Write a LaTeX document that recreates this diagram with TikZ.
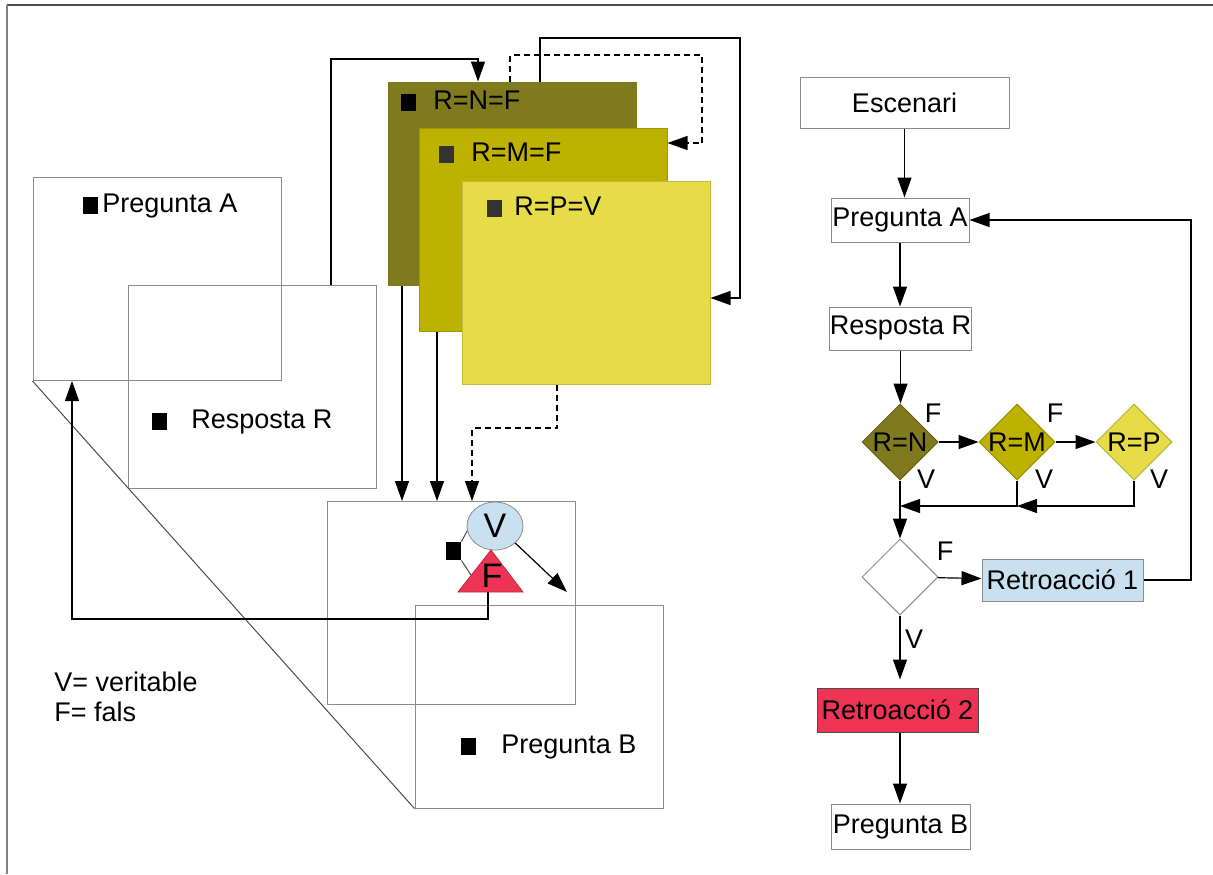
\documentclass[tikz,border=0pt]{standalone}
\usepackage{fontspec}
\setmainfont{Liberation Sans}
\usetikzlibrary{arrows.meta}
\usetikzlibrary{shapes.geometric, positioning}

\definecolor{olivN}{RGB}{128,122,30}
\definecolor{olivM}{RGB}{190,178,0}
\definecolor{olivP}{RGB}{230,220,72}
\definecolor{skyV}{RGB}{200,224,240}
\definecolor{redF}{RGB}{238,52,84}
\definecolor{edge}{RGB}{140,140,140}

\newcommand{\bul}[1][black]{\textcolor{#1}{\rule[-1pt]{7.5pt}{8.5pt}}}

\tikzset{
    card/.style={draw=edge, line width=0.5pt, minimum width=124pt, minimum height=101.5pt, inner sep=0pt},
    lbl/.style={anchor=base west, inner sep=0pt, font=\fontsize{13.5}{15}\selectfont},
    box/.style={draw=edge, line width=0.5pt, inner sep=0pt, font=\fontsize{13.5}{15}\selectfont},
    test/.style={diamond, draw=edge, line width=0.5pt, minimum width=38pt, minimum height=38pt, inner sep=0pt},
    flag/.style={inner sep=0pt, font=\fontsize{13.5}{15}\selectfont},
    link/.style={->, line width=0.6pt},
}

\begin{document}
\begin{tikzpicture}[x=0.5pt, y=-0.5pt, >={Triangle[length=10pt,width=7pt]}]
            \fill[white] (0,0) rectangle (1213,874);
            \useasboundingbox (0,0) rectangle (1213,874);
            % Frame
            \draw[line width=1pt, black!70] (6.5,4.5) -- (1213,4.5);
            \draw[line width=1pt, black!50] (6.5,874) -- (6.5,4.5);

            % Question cards
            \node[card] (cardA) at (157,279) {};
            \node[card] (cardR) at (252,386.5) {};
            \node[card] (cardVF) at (451,603) {};
            \node[card] (cardB) at (539,706.5) {};
            \draw[black!70, line width=0.5pt] (cardA.south west) -- (cardB.south west);

            % Answer cards
            \node[card, fill=olivN, draw=olivN] (cardN) at (512,183.5) {};
            \node[card, fill=olivM, draw=olivM!85!black] (cardM) at (543,230) {};
            \node[card, fill=olivP, draw=olivP!85!black] (cardP) at (586,282.5) {};

            % Card texts
            \node[lbl] (txtA) at (83,212) {\bul\hspace{2pt}Pregunta A};
            \node[lbl] (txtR) at (152,428) {\bul\hspace{12pt}Resposta R};
            \node[lbl] (txtB) at (461,753) {\bul\hspace{12.5pt}Pregunta B};
            \node[lbl] (txtN) at (401,109) {\bul\hspace{8.5pt}R=N=F};
            \node[lbl] (txtM) at (439,161) {\bul[black!80]\hspace{8.5pt}R=M=F};
            \node[lbl] (txtP) at (487,215) {\bul[black!80]\hspace{6pt}R=P=V};

            % V and F
            \node[ellipse, draw=edge, fill=skyV, minimum width=28pt, minimum height=24pt, inner sep=0pt, font=\fontsize{17}{17}\selectfont] (nodeV) at (495,526) {V};
            \filldraw[fill=redF, draw=redF!80!black, line width=0.4pt] (458,592) -- (491,550) -- (523,592) -- cycle;
            \node[flag, font=\fontsize{17}{17}\selectfont] (nodeF) at (492,576) {F};
            \node[fill=black, minimum width=7.5pt, minimum height=9pt, inner sep=0pt] (vfBul) at (453.5,551) {};
            \coordinate (fSide) at (471,575);
            \coordinate (vOut) at (567,592);
            \draw[black!70, line width=0.5pt] (vfBul.north east) -- (nodeV.190);
            \draw[black!70, line width=0.5pt] (vfBul.south east) -- (fSide);
            \draw[link] (nodeV.-40) -- (vOut);

            % Links between cards
            \coordinate (upL) at (331,59);
            \coordinate (upR) at (478,59);
            \draw[link] (upL |- cardR.north) -- (upL) -- (upR) -- (upR |- cardN.north);
            \coordinate (dashL) at (510,55);
            \coordinate (dashR) at (702,143);
            \draw[link, densely dashed] (dashL |- cardN.north) -- (dashL) -| (dashR) -- (dashR -| cardM.east);
            \coordinate (topL) at (540,38);
            \coordinate (topR) at (740,298);
            \draw[link] (topL |- cardN.north) -- (topL) -| (topR) -- (topR -| cardP.east);
            \coordinate (dropN) at (402,0);
            \coordinate (dropM) at (437,0);
            \draw[link] (dropN |- cardN.south) -- (dropN |- cardVF.north);
            \draw[link] (dropM |- cardM.south) -- (dropM |- cardVF.north);
            \coordinate (dropP) at (557,428);
            \coordinate (dropV) at (472,428);
            \draw[link, densely dashed] (dropP |- cardP.south) -- (dropP) -- (dropV) -- (dropV |- cardVF.north);
            \coordinate (backF) at (488,592);
            \coordinate (backA) at (72,619);
            \draw[link] (backF) |- (backA) -- (backA |- cardA.south);

            % Legend
            \node[lbl, anchor=north west, align=left] (legend) at (54,672) {V= veritable\\F= fals};

            % Flowchart
            \node[box, minimum width=104.5pt, minimum height=25.5pt] (esc) at (904.5,102.5) {Escenari};
            \node[box, minimum width=69pt, minimum height=22pt] (qA) at (900,220) {Pregunta A};
            \node[box, minimum width=69.5pt, minimum height=21.5pt] (ansR) at (900.5,328.5) {Resposta R};
            \node[test, fill=olivN, draw=olivN!80!black, label={[flag]center:R=N}] (chkN) at (900,442) {};
            \node[test, fill=olivM, draw=olivM!80!black, label={[flag]center:R=M}] (chkM) at (1017,442) {};
            \node[test, fill=olivP, draw=olivP!80!black, label={[flag]center:R=P}] (chkP) at (1134,442) {};
            \node[test, fill=white] (chkV) at (900,577) {};
            \node[box, fill=skyV, minimum width=80.5pt, minimum height=21pt] (fb1) at (1062.5,580) {Retroacció 1};
            \node[box, fill=redF, draw=black!70, minimum width=80.5pt, minimum height=22pt] (fb2) at (897.5,710) {Retroacció 2};
            \node[box, minimum width=69.5pt, minimum height=22.5pt] (qB) at (900.5,826.5) {Pregunta B};

            % Flags
            \node[flag] (fN) at (933,413) {F};
            \node[flag] (fM) at (1055,413) {F};
            \node[flag] (vN) at (926,479) {V};
            \node[flag] (vM) at (1044,479) {V};
            \node[flag] (vP) at (1159,479) {V};
            \node[flag] (fV) at (945,551) {F};
            \node[flag] (vV) at (914,639) {V};

            % Flow
            \draw[link] (esc.south) -- (esc.south |- qA.north);
            \draw[link] (qA.south) -- (qA.south |- ansR.north);
            \draw[link] (ansR.south) -- (ansR.south |- chkN.north);
            \draw[link] (chkN) -- (chkM);
            \draw[link] (chkM) -- (chkP);
            \coordinate (joinN) at (900,506);
            \coordinate (joinM) at (1017,506);
            \draw[link] (chkP.south) |- (joinM);
            \draw[link] (chkM.south) -- (joinM) -- (joinN);
            \draw[link] (chkN) -- (chkV);
            \draw[link] (chkV) -- (fb1);
            \draw[link, shorten >=4pt] (chkV.south) -- (chkV.south |- fb2.north);
            \draw[link] (chkV |- fb2.south) -- (chkV |- qB.north);
            \coordinate (loop) at (1191,220);
            \draw[link] (fb1.east) -| (loop) -- (qA.east);
\end{tikzpicture}
\end{document}
